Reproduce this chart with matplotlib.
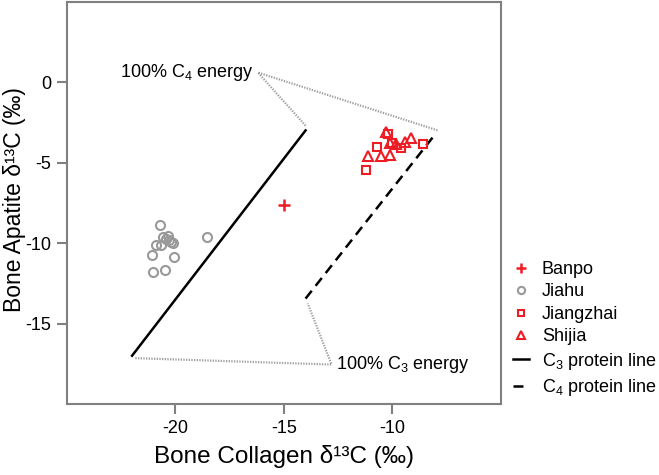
import matplotlib
matplotlib.use('Agg')
import matplotlib.pyplot as plt

plt.rcParams['font.family'] = ['Liberation Sans', 'DejaVu Sans']
plt.rcParams['mathtext.default'] = 'regular'
plt.rcParams['axes.unicode_minus'] = False

# stable isotope values (collagen, apatite)
banpo_col = [-15.0]
banpo_apa = [-7.65]

jiahu_col = [-20.69, -20.58, -20.43, -20.28, -20.2, -20.89, -20.66, -20.1,
             -21.09, -20.05, -21.04, -20.48, -18.55, -20.35]
jiahu_apa = [-8.9, -9.62, -9.72, -9.83, -9.93, -10.09, -10.09, -10.0,
             -10.75, -10.86, -11.79, -11.68, -9.62, -9.55]

jiangzhai_col = [-10.71, -11.23, -10.2, -9.58, -8.58, -10.01]
jiangzhai_apa = [-4.0, -5.46, -3.23, -4.12, -3.86, -3.75]

shijia_col = [-10.28, -10.12, -9.12, -11.12, -10.51, -10.12, -9.82, -9.43]
shijia_apa = [-3.09, -3.75, -3.44, -4.57, -4.57, -4.53, -3.85, -3.71]

# model lines (Kellner & Schoeninger style)
c3_line_x = [-22.0, -14.0]
c3_line_y = [-17.0, -3.0]
c4_line_x = [-14.0, -8.0]
c4_line_y = [-13.45, -3.2]

# 100% energy corners
c4_energy_x = [-14.0, -16.2, -7.9]
c4_energy_y = [-2.7, 0.6, -3.0]
c3_energy_x = [-21.85, -12.8, -13.9]
c3_energy_y = [-17.15, -17.55, -13.75]

red = '#ee1c24'
grey = '#999999'
spine = '#808080'

fig = plt.figure(figsize=(6.59, 4.75), dpi=100)
ax = fig.add_axes([0.1017, 0.1495, 0.6581, 0.8469])

ax.plot(c4_energy_x, c4_energy_y, color='#a0a0a0', lw=1.6, ls=(0, (0.6, 0.6)))
ax.plot(c3_energy_x, c3_energy_y, color='#a0a0a0', lw=1.6, ls=(0, (0.6, 0.6)))

ax.plot(c3_line_x, c3_line_y, color='black', lw=1.8, label='C$_3$ protein line')
ax.plot(c4_line_x, c4_line_y, color='black', lw=1.8, ls=(0, (4, 2.5)),
        label='C$_4$ protein line')

ax.plot(banpo_col, banpo_apa, ls='none', marker='+', ms=9, mew=1.8,
        color=red, label='Banpo')
ax.plot(jiahu_col, jiahu_apa, ls='none', marker='o', ms=6.5, mew=1.5,
        mfc='none', mec=grey, label='Jiahu')
ax.plot(jiangzhai_col, jiangzhai_apa, ls='none', marker='s', ms=5.3, mew=1.5,
        mfc='none', mec=red, label='Jiangzhai')
ax.plot(shijia_col, shijia_apa, ls='none', marker='^', ms=7, mew=1.5,
        mfc='none', mec=red, label='Shijia')

ax.text(-16.4, 0.62, '100% C$_4$ energy', ha='right', va='center', fontsize=13)
ax.text(-12.6, -17.55, '100% C$_3$ energy', ha='left', va='center', fontsize=13)

ax.set_xlim(-25, -5)
ax.set_ylim(-20, 5)
ax.set_xticks([-20, -15, -10])
ax.set_yticks([0, -5, -10, -15])
ax.tick_params(direction='out', length=7, width=1.5, colors=spine,
               labelcolor='black', labelsize=13, pad=4.5)
for s in ax.spines.values():
    s.set_color(spine)
    s.set_linewidth(1.5)

ax.set_xlabel('Bone Collagen δ¹³C (‰)', fontsize=17.5, labelpad=6)
ax.set_ylabel('Bone Apatite δ¹³C (‰)', fontsize=16.5)
ax.yaxis.set_label_coords(-0.095, 0.507)

h, l = ax.get_legend_handles_labels()
order = [2, 3, 4, 5, 0, 1]
fig.legend([h[i] for i in order], [l[i] for i in order],
           loc='upper left', bbox_to_anchor=(513 / 659, 1 - 261 / 475),
           frameon=False, fontsize=13, handlelength=0.9, handletextpad=0.7,
           labelspacing=0.3, borderpad=0, borderaxespad=0, markerscale=0.8)

fig.savefig('out.png', dpi=100)
